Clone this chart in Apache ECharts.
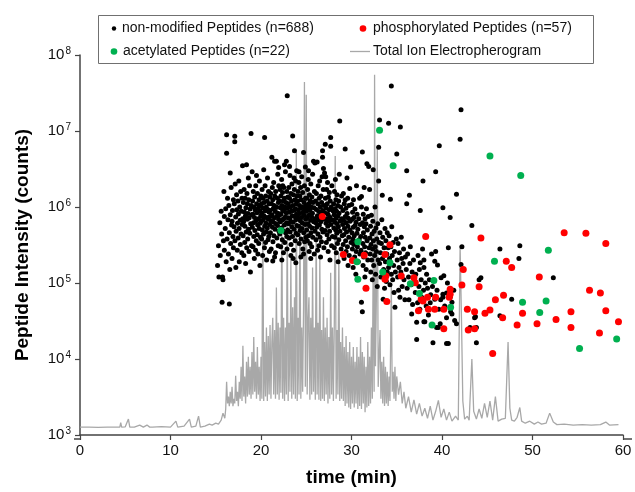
<!DOCTYPE html>
<html>
<head>
<meta charset="utf-8">
<script src="https://cdn.jsdelivr.net/npm/echarts@6/dist/echarts.min.js"></script>
<style>
html,body{margin:0;padding:0;background:#fff;}
#chart{width:635px;height:492px;}
</style>
</head>
<body>
<div id="chart"></div>
<script>
// Total Ion Electropherogram [time (min), intensity]
const tieData = [[0,1.27e3],[1,1.27e3],[2,1.26e3],[3,1.27e3],[4,1.27e3],[4.4,1.27e3],[4.5,1.45e3],[4.6,1.27e3],[5.0,1.28e3],[5.35,1.62e3],[5.5,1.27e3],[6.0,1.27e3],[6.6,1.35e3],[7.0,1.27e3],[7.4,1.35e3],[7.7,1.27e3],[8,1.27e3],[9,1.29e3],[10,1.27e3],[10.6,1.52e3],[10.8,1.27e3],[11,1.27e3],[11.5,1.31e3],[12.1,1.62e3],[12.3,1.27e3],[12.8,1.31e3],[13.1,1.77e3],[13.3,1.27e3],[13.8,1.31e3],[14.3,1.39e3],[14.6,1.35e3],[15.0,1.43e3],[15.3,1.39e3],[15.6,1.57e3],[15.8,1.94e3],
[16.0,1.66e3],[16.1,2.2e3],[16.2,5.0e3],[16.3,2.6e3],[16.4,3.2e3],[16.5,2.4e3],[16.6,3.7e3],[16.7,2.6e3],[16.8,4.3e3],[16.9,2.4e3],[17.0,3.0e3],[17.1,2.6e3],[17.2,6.0e3],[17.3,2.8e3],[17.4,3.7e3],[17.5,2.4e3],[17.6,5.0e3],[17.7,3.0e3],[17.8,7.9e3],[17.9,2.8e3],
[18.0,1.49e4],[18.1,3.2e3],[18.2,5.9e3],[18.3,2.6e3],[18.4,9.2e3],[18.5,3.2e3],[18.6,1.07e4],[18.7,3.4e3],[18.8,7.9e3],[18.9,3.0e3],[19.0,1.24e4],[19.1,3.4e3],[19.2,1.95e4],[19.3,3.7e3],[19.4,9.2e3],[19.5,3.0e3],[19.6,1.44e4],[19.7,3.4e3],[19.8,7.9e3],[19.9,2.8e3],
[20.0,1.07e4],[20.1,3.0e3],[20.2,1.1e6],[20.3,2.8e3],[20.4,1.67e4],[20.5,3.2e3],[20.6,2.6e4],[20.7,2.8e3],[20.8,2.0e4],[20.9,3.4e3],[21.0,2.8e4],[21.1,3.0e3],[21.2,1.67e4],[21.3,3.5e4],[21.4,3.4e3],[21.5,2.4e4],[21.6,3.0e3],[21.7,8.7e4],[21.8,3.4e3],[21.9,3.0e4],
[22.0,2.9e3],[22.1,2.6e4],[22.2,3.6e3],[22.3,1.0e6],[22.4,3.0e3],[22.5,3.5e4],[22.6,2.8e3],[22.7,2.6e4],[22.8,3.4e3],[22.9,8.3e5],[23.0,2.8e3],[23.1,3.0e4],[23.2,3.7e3],[23.3,2.1e5],[23.4,3.0e3],[23.5,4.8e4],[23.6,3.4e3],[23.7,6.5e4],[23.8,3.0e3],[23.9,5.3e6],
[24.0,2.8e3],[24.1,3.5e4],[24.2,3.4e3],[24.3,1.3e6],[24.4,3.0e3],[24.5,2.6e4],[24.6,3.7e3],[24.7,4.8e4],[24.8,4.4e7],[24.9,4.3e3],[25.0,3.0e7],[25.1,3.4e3],[25.2,3.0e4],[25.3,6.5e4],[25.4,2.9e3],[25.5,3.5e4],[25.6,3.4e3],[25.7,1.6e5],[25.8,3.7e3],[25.9,2.6e4],
[26.0,2.9e3],[26.1,8.3e5],[26.2,3.4e3],[26.3,3.0e4],[26.4,2.9e3],[26.5,2.1e5],[26.6,2.8e3],[26.7,2.4e4],[26.8,3.0e3],[26.9,6.5e4],[27.0,2.8e3],[27.1,2.6e4],[27.2,3.4e3],[27.3,3.5e4],[27.4,2.6e3],[27.5,1.95e4],[27.6,3.0e3],[27.7,1.36e5],[27.8,3.4e3],[27.9,2.6e4],
[28.0,2.8e3],[28.1,3.0e4],[28.2,4.7e6],[28.3,3.0e3],[28.4,2.4e4],[28.5,3.4e3],[28.6,2.5e5],[28.7,2.8e3],[28.8,1.67e4],[28.9,3.0e3],[29.0,2.6e4],[29.1,2.8e3],[29.2,1.44e4],[29.3,2.4e3],[29.4,2.0e4],[29.5,2.6e3],[29.6,1.24e4],[29.7,2.3e3],[29.8,1.67e4],[29.9,2.2e3],
[30.0,1.07e4],[30.1,2.6e3],[30.2,1.44e4],[30.3,2.3e3],[30.4,9.2e3],[30.5,2.6e3],[30.6,1.44e4],[30.7,2.2e3],[30.8,1.07e4],[30.9,2.4e3],[31.0,1.95e4],[31.1,2.2e3],[31.2,1.24e4],[31.3,2.6e3],[31.4,1.07e4],[31.5,2.0e3],[31.6,7.9e3],[31.7,2.3e3],[31.8,1.67e4],[31.9,2.4e3],
[32.0,1.07e4],[32.1,2.6e3],[32.2,2.6e4],[32.3,3.0e3],[32.4,2.9e5],[32.5,3.7e3],[32.55,5.5e7],[32.65,8.0e3],[32.75,6.5e4],[32.85,5.8e6],[32.95,4.3e3],[33.05,1.07e4],[33.15,2.4e4],[33.25,3.0e3],[33.35,9.2e3],[33.45,2.6e3],[33.55,1.07e4],[33.65,2.4e3],[33.75,7.9e3],[33.85,2.6e3],[33.95,6.8e3],
[34.05,2.4e3],[34.15,5.9e3],[34.25,2.8e3],[34.4,1.0e5],[34.5,3.7e3],[34.6,6.8e3],[34.7,3.0e3],[34.8,7.9e3],[34.9,2.8e3],[35.0,5.9e3],[35.2,3.4e3],[35.4,5.0e3],[35.6,2.6e3],[35.8,3.7e3],[36.0,2.25e3],[36.3,3.2e3],[36.6,2.0e3],[36.9,2.9e3],[37.2,1.88e3],[37.5,2.6e3],[37.8,1.77e3],[38.1,2.25e3],[38.4,1.66e3],[38.7,2.4e3],[39.0,1.57e3],[39.3,2.05e3],[39.6,2.86e3],[39.9,1.71e3],[40.2,2.2e3],[40.5,1.57e3],[40.8,2.0e3],[41.1,1.52e3],[41.5,1.77e3],[41.8,1.57e3],
[42.0,3.1e5],[42.15,3.5e4],[42.3,2.8e3],[42.5,1.62e3],[42.8,1.77e3],[43.0,1.57e3],[43.3,1.0e4],[43.5,2.05e3],[43.8,1.62e3],[44.1,2.2e3],[44.4,1.66e3],[44.7,2.6e3],[45.0,1.71e3],[45.3,2.8e3],[45.6,1.57e3],[45.9,3.2e3],[46.2,1.52e3],[46.6,1.62e3],[47.0,1.66e3],[47.3,1.67e4],[47.5,2.25e3],[47.7,1.57e3],[48.0,1.52e3],[48.3,1.71e3],[48.6,2.3e3],[48.8,1.52e3],[49.2,1.43e3],[49.7,1.52e3],[50.2,1.39e3],[50.6,1.48e3],[51.0,1.39e3],[51.5,1.43e3],[51.9,1.94e3],[52.3,1.48e3],[52.7,1.37e3],[53.5,1.39e3],[54.5,1.35e3],[55.5,1.37e3],[56.5,1.35e3],[57.5,1.37e3],[58.1,1.48e3],[58.5,1.35e3],[59.5,1.37e3]];

// non-modified peptides [time (min), intensity]
const nonModified = [
[15.2,1.7e5],[15.3,3.1e5],[15.35,1.2e5],[15.45,6.2e5],[15.5,2.3e5],[15.6,8.8e5],[15.65,4.4e5],[15.7,5.6e4],[15.75,1.2e5],[15.8,1.1e5],[15.85,3.6e5],[15.9,1.6e6],[15.95,2.7e5],[15.95,7.5e5],
[16.05,5.2e5],[16.1,9.5e5],[16.15,1.9e5],[16.2,8.9e6],[16.2,5.1e6],[16.25,3.8e5],[16.3,1.3e6],[16.35,6.8e5],[16.4,2.4e5],[16.45,1.05e6],[16.5,5.3e4],[16.5,4.6e5],[16.55,1.5e5],[16.6,2.8e6],[16.6,7.9e5],[16.65,3.3e5],[16.7,1.8e6],[16.75,5.8e5],[16.8,2.1e5],[16.85,9.0e5],[16.9,4.1e5],[16.95,1.25e6],[16.95,2.9e5],[16.8,6.5e5],
[17.02,5.5e5],[17.05,1.1e6],[17.1,8.5e6],[17.1,7.2e6],[17.12,3.6e5],[17.15,2.0e6],[17.2,7.4e5],[17.22,1.6e5],[17.25,4.8e5],[17.3,1.45e6],[17.33,9.2e5],[17.38,2.7e5],[17.4,6.1e5],[17.45,1.2e6],[17.48,3.9e5],[17.5,8.1e5],[17.55,2.2e6],[17.58,5.2e5],[17.6,1.9e5],[17.65,1.0e6],[17.7,6.7e5],[17.72,3.2e5],[17.75,1.6e6],[17.8,4.4e5],[17.83,8.8e5],[17.87,2.5e5],[17.9,1.3e6],[17.93,5.9e5],[17.96,3.5e6],[17.98,7.0e5],
[18.02,4.2e5],[18.05,1.15e6],[18.08,6.4e5],[18.1,2.3e5],[18.13,1.7e6],[18.16,8.6e5],[18.2,3.4e5],[18.22,5.6e5],[18.25,1.3e6],[18.28,7.6e5],[18.3,1.8e5],[18.33,9.8e5],[18.36,4.7e5],[18.4,3.6e6],[18.42,2.9e5],[18.45,1.5e6],[18.48,6.9e5],[18.5,1.1e6],[18.53,3.8e5],[18.56,8.2e5],[18.6,2.4e6],[18.62,5.1e5],[18.65,1.25e6],[18.68,2.6e5],[18.7,7.2e5],[18.73,1.9e6],[18.76,4.5e5],[18.8,9.4e5],[18.83,1.4e5],[18.86,6.0e5],[18.9,9.3e6],[18.92,1.05e6],[18.95,3.1e5],[18.98,7.9e5],
[19.02,2.9e6],[19.04,5.4e5],[19.07,1.2e6],[19.1,8.0e5],[19.12,3.0e5],[19.15,1.6e6],[19.18,6.2e5],[19.2,4.1e5],[19.23,1.0e6],[19.26,2.1e5],[19.28,7.3e5],[19.3,1.35e6],[19.33,4.9e5],[19.36,9.1e5],[19.4,2.7e5],[19.42,1.9e6],[19.45,6.6e5],[19.48,3.6e5],[19.5,2.6e6],[19.52,1.1e6],[19.55,8.4e5],[19.58,4.3e5],[19.6,1.5e6],[19.63,5.8e5],[19.66,2.4e5],[19.7,9.6e5],[19.72,7.0e5],[19.75,3.3e5],[19.78,1.25e6],[19.8,5.2e5],[19.83,2.2e6],[19.86,8.8e5],[19.88,1.7e5],[19.9,6.1e5],[19.93,1.05e6],[19.95,4.0e5],[19.97,7.6e5],[19.99,1.4e6],
[20.02,6.5e5],[20.05,1.1e6],[20.07,3.8e5],[20.1,8.3e5],[20.12,1.7e6],[20.15,5.0e5],[20.18,2.3e5],[20.2,9.7e5],[20.22,1.3e6],[20.25,6.8e5],[20.28,4.4e5],[20.3,3.1e6],[20.32,7.7e5],[20.35,1.15e6],[20.38,2.9e5],[20.4,8.2e6],[20.42,5.6e5],[20.45,1.9e6],[20.48,8.9e5],[20.5,3.4e5],[20.52,1.4e6],[20.55,6.1e5],[20.58,1.0e6],[20.6,4.7e5],[20.62,2.0e5],[20.65,7.3e5],[20.68,1.2e6],[20.7,5.3e5],[20.72,2.4e6],[20.75,9.3e5],[20.78,3.7e5],[20.8,6.9e5],[20.83,1.6e6],[20.86,4.1e5],[20.88,8.6e5],[20.9,1.1e6],[20.93,2.6e5],[20.95,5.9e5],[20.97,1.35e6],[20.99,7.5e5],
[21.02,9.0e5],[21.04,4.6e5],[21.07,1.5e6],[21.1,6.6e5],[21.12,2.8e5],[21.15,1.1e6],[21.2,4.5e6],[21.22,7.9e5],[21.25,1.8e6],[21.27,5.4e5],[21.3,1.25e6],[21.32,3.5e5],[21.35,9.5e5],[21.38,6.3e5],[21.4,2.1e6],[21.42,4.2e5],[21.45,1.05e6],[21.48,7.2e5],[21.5,4.0e6],[21.52,1.4e6],[21.55,5.1e5],[21.58,8.7e5],[21.6,2.5e5],[21.62,1.6e6],[21.65,6.0e5],[21.7,4.0e6],[21.72,1.0e6],[21.75,3.9e5],[21.78,7.6e5],[21.8,1.3e6],[21.82,5.7e5],[21.85,2.7e6],[21.87,8.3e5],[21.9,3.1e5],[21.92,1.15e6],[21.94,6.9e5],[21.96,1.9e6],[21.98,4.8e5],[21.5,2.2e5],[21.3,1.95e5],[21.7,9.9e5],[21.95,3.3e6],
[22.02,7.8e5],[22.04,1.2e6],[22.07,4.4e5],[22.1,1.7e6],[22.12,6.4e5],[22.15,9.8e5],[22.18,3.0e5],[22.2,1.4e6],[22.22,8.1e5],[22.25,5.3e5],[22.28,2.3e6],[22.3,1.05e6],[22.32,6.7e5],[22.35,3.7e5],[22.38,1.55e6],[22.4,8.9e5],[22.42,4.9e5],[22.45,1.2e6],[22.48,2.5e5],[22.5,7.0e5],[22.52,1.8e6],[22.55,9.2e5],[22.58,5.8e5],[22.6,1.3e6],[22.62,3.4e5],[22.65,1.0e6],[22.68,7.4e5],[22.7,2.9e6],[22.72,4.6e5],[22.75,1.15e6],[22.78,8.4e5],[22.8,4.0e6],[22.82,6.2e5],[22.85,1.6e6],[22.87,2.8e5],[22.9,2.9e7],[22.92,9.6e5],[22.94,5.0e5],[22.96,1.35e6],[22.98,7.2e5],[22.3,2.0e5],[22.6,3.6e6],[22.4,1.9e6],[22.85,4.1e5],
[23.02,1.1e6],[23.04,6.0e5],[23.07,1.8e6],[23.1,8.5e5],[23.12,3.9e5],[23.15,1.3e6],[23.18,7.1e5],[23.2,2.6e6],[23.22,4.7e5],[23.25,1.0e6],[23.28,6.5e5],[23.3,1.5e6],[23.32,3.2e5],[23.35,8.8e5],[23.38,1.2e6],[23.4,5.5e5],[23.42,2.0e6],[23.45,7.7e5],[23.48,4.1e5],[23.5,8.6e6],[23.52,1.05e6],[23.55,6.3e5],[23.58,1.45e6],[23.6,2.7e5],[23.62,9.0e5],[23.65,5.1e5],[23.68,1.7e6],[23.7,5.5e6],[23.72,7.5e5],[23.75,1.25e6],[23.78,3.6e5],[23.8,9.5e5],[23.82,2.2e6],[23.85,6.8e5],[23.87,4.5e5],[23.9,1.1e6],[23.92,8.0e5],[23.94,3.0e6],[23.96,5.7e5],[23.98,1.4e6],[23.3,2.3e5],[23.55,2.1e5],[23.15,3.4e6],[23.85,1.85e5],[23.65,2.4e6],
[24.02,7.6e5],[24.05,1.2e6],[24.07,4.3e5],[24.1,1.6e6],[24.12,9.1e5],[24.15,5.6e5],[24.18,2.1e6],[24.2,7.0e5],[24.22,3.3e5],[24.25,1.05e6],[24.28,8.2e5],[24.3,1.4e6],[24.32,4.9e5],[24.35,6.6e5],[24.38,1.8e6],[24.4,9.7e5],[24.42,3.8e5],[24.45,1.25e6],[24.48,7.3e5],[24.5,2.5e6],[24.52,5.2e5],[24.55,1.0e6],[24.58,6.1e5],[24.6,1.55e6],[24.62,2.8e5],[24.65,8.6e5],[24.7,5.2e6],[24.72,4.6e5],[24.75,1.15e6],[24.78,7.8e5],[24.8,1.9e6],[24.82,3.5e5],[24.85,9.4e5],[24.88,5.9e5],[24.9,3.35e6],[24.92,1.3e6],[24.94,6.9e5],[24.96,4.0e5],[24.98,1.05e6],[24.4,2.2e5],[24.7,2.4e5],[24.2,2.9e6],
[25.02,8.8e5],[25.05,5.0e5],[25.07,1.3e6],[25.1,7.2e5],[25.12,3.6e5],[25.15,1.7e6],[25.18,9.6e5],[25.2,6.0e5],[25.22,2.3e6],[25.25,4.2e5],[25.28,1.1e6],[25.3,7.8e5],[25.32,2.6e5],[25.35,1.45e6],[25.38,5.6e5],[25.4,9.0e5],[25.42,3.3e5],[25.45,1.2e6],[25.48,6.7e5],[25.5,2.0e6],[25.52,4.6e5],[25.55,1.0e6],[25.58,7.5e5],[25.6,3.0e5],[25.62,1.35e6],[25.65,5.3e5],[25.68,8.3e5],[25.7,2.7e6],[25.72,4.0e5],[25.75,1.15e6],[25.8,4.0e6],[25.82,6.4e5],[25.85,9.8e5],[25.88,2.4e5],[25.9,1.6e6],[25.92,7.0e5],[25.95,3.8e6],[25.97,4.8e5],[25.5,2.1e5],[25.25,3.0e6],
[26.02,1.2e6],[26.05,6.2e5],[26.08,3.7e5],[26.1,9.3e5],[26.12,1.5e6],[26.15,5.4e5],[26.2,3.9e6],[26.22,7.6e5],[26.25,2.7e5],[26.28,1.1e6],[26.3,4.4e5],[26.32,1.9e6],[26.35,6.8e5],[26.38,8.7e5],[26.4,3.1e5],[26.42,1.3e6],[26.45,5.8e5],[26.48,2.2e6],[26.5,7.3e5],[26.52,4.0e5],[26.55,1.0e6],[26.58,2.2e5],[26.6,6.4e5],[26.62,1.4e6],[26.65,8.1e5],[26.68,3.5e5],[26.7,1.15e6],[26.72,5.1e5],[26.75,2.5e6],[26.8,5.5e6],[26.8,4.5e6],[26.82,9.0e5],[26.85,4.7e5],[26.88,1.7e6],[26.9,3.2e6],[26.92,6.9e5],[26.95,2.9e5],[26.97,1.05e6],
[27.02,2.8e6],[27.05,8.4e5],[27.08,4.9e5],[27.1,6.7e6],[27.12,1.3e6],[27.15,2.5e6],[27.18,6.1e5],[27.2,9.7e5],[27.22,3.4e5],[27.25,1.7e6],[27.28,7.0e5],[27.3,4.3e5],[27.32,1.1e6],[27.35,2.1e6],[27.38,5.6e5],[27.4,8.0e5],[27.42,2.6e5],[27.45,1.35e6],[27.48,6.5e5],[27.5,3.8e5],[27.52,9.2e5],[27.55,1.55e6],[27.58,4.8e5],[27.6,7.4e5],[27.62,2.0e5],[27.65,1.2e6],[27.7,6.3e6],[27.7,8.2e6],[27.72,5.9e5],[27.75,1.0e6],[27.8,3.1e5],[27.83,1.9e6],[27.86,6.8e5],[27.9,4.1e5],[27.95,8.9e5],
[28.02,1.1e6],[28.05,5.3e5],[28.08,7.9e5],[28.1,2.9e5],[28.12,1.6e6],[28.15,6.3e5],[28.18,4.0e5],[28.2,9.5e5],[28.22,2.3e6],[28.25,5.0e5],[28.28,1.25e6],[28.3,7.1e5],[28.32,2.5e5],[28.35,8.8e5],[28.38,4.5e5],[28.4,1.45e6],[28.42,6.0e5],[28.45,3.3e5],[28.48,1.05e6],[28.5,7.6e5],[28.52,1.9e5],[28.55,5.5e5],[28.58,1.2e6],[28.6,3.7e5],[28.62,8.3e5],[28.65,2.7e6],[28.7,1.35e7],[28.72,4.8e5],[28.75,6.6e5],[28.8,1.0e6],[28.85,2.8e5],[28.9,1.4e6],[28.93,7.0e5],[28.97,4.2e5],
[29.02,5.9e5],[29.05,9.0e5],[29.08,3.2e5],[29.1,1.5e6],[29.12,6.7e5],[29.15,4.3e5],[29.18,2.1e5],[29.2,1.1e6],[29.22,5.2e5],[29.3,5.8e6],[29.3,1.24e6],[29.32,7.5e5],[29.35,3.6e5],[29.38,9.6e5],[29.4,2.6e5],[29.42,6.2e5],[29.45,4.7e5],[29.5,2.4e6],[29.52,8.2e5],[29.55,3.0e5],[29.58,1.3e6],[29.6,5.6e5],[29.62,1.7e5],[29.65,7.1e5],[29.7,4.0e5],[29.72,1.05e6],[29.75,2.3e5],[29.8,1.75e6],[29.82,5.0e5],[29.85,6.5e5],[29.9,3.35e6],[29.95,3.4e5],
[30.02,1.08e6],[30.05,4.6e5],[30.08,6.9e5],[30.1,2.8e5],[30.12,8.5e5],[30.15,3.8e5],[30.18,1.6e5],[30.2,5.4e5],[30.22,1.25e6],[30.25,3.2e5],[30.28,7.3e5],[30.3,4.2e5],[30.35,2.2e5],[30.38,9.4e5],[30.4,5.7e5],[30.45,3.5e5],[30.48,1.3e5],[30.5,6.3e5],[30.52,2.6e5],[30.55,1.9e6],[30.6,4.5e5],[30.62,8.0e5],[30.65,3.0e5],[30.7,5.1e5],[30.75,1.9e5],[30.8,7.0e5],[30.85,3.7e5],[30.9,1.3e6],[30.93,2.4e5],[30.97,5.9e5],
[31.02,4.1e5],[31.05,2.7e5],[31.1,1.37e6],[31.1,1.0e6],[31.1,5.6e4],[31.2,5.3e6],[31.2,4.2e4],[31.22,6.2e5],[31.25,3.3e5],[31.28,1.7e5],[31.3,8.0e5],[31.32,4.6e5],[31.35,2.2e5],[31.4,1.8e6],[31.42,5.5e5],[31.45,3.0e5],[31.48,1.2e5],[31.5,7.0e5],[31.52,4.0e5],[31.55,2.5e5],[31.6,6.0e5],[31.62,1.5e5],[31.65,9.5e5],[31.7,3.7e6],[31.72,3.6e5],[31.75,5.0e5],[31.8,2.0e5],[31.85,7.5e5],[31.9,3.4e6],[31.95,2.9e5],
[32.0,1.7e6],[32.03,3.9e5],[32.06,2.4e5],[32.1,5.6e5],[32.13,1.4e5],[32.16,3.2e5],[32.2,7.8e5],[32.23,2.0e5],[32.26,4.4e5],[32.3,1.1e5],[32.33,2.8e5],[32.36,6.5e5],[32.4,3.1e6],[32.42,3.6e5],[32.45,1.7e5],[32.5,4.8e5],[32.55,2.3e5],[32.6,1.0e6],[32.62,3.0e5],[32.66,1.3e5],[32.7,5.3e5],[32.75,2.6e5],[32.8,3.8e5],[32.85,9.0e4],[32.9,6.0e5],[32.95,2.0e5],
[33.0,6.1e6],[33.0,2.2e6],[33.1,1.4e7],[33.05,3.4e5],[33.1,1.8e5],[33.15,4.6e5],[33.2,2.5e5],[33.25,1.2e5],[33.3,3.3e5],[33.35,6.8e5],[33.4,1.43e6],[33.42,2.1e5],[33.45,4.0e5],[33.5,6.1e4],[33.55,1.5e5],[33.6,2.9e5],[33.65,8.5e4],[33.7,5.2e5],[33.75,1.9e5],[33.8,3.6e5],[33.85,1.05e5],[33.9,2.4e5],[33.95,1.4e5],[33.95,4.6e5],
[34.1,1.26e7],[34.4,3.9e7],[34.3,1.26e6],[34.8,4.8e4],[34.05,2.9e5],[34.1,1.6e5],[34.15,4.2e5],[34.2,2.1e5],[34.25,9.5e4],[34.35,3.0e5],[34.4,1.3e5],[34.45,5.5e5],[34.5,2.3e5],[34.55,1.1e5],[34.6,3.4e5],[34.65,1.7e5],[34.7,7.5e4],[34.75,2.6e5],[34.85,1.4e5],[34.95,3.8e5],
[35.0,5.0e6],[35.4,1.13e7],[35.05,2.0e5],[35.1,1.2e5],[35.15,3.3e5],[35.2,8.0e4],[35.25,1.6e5],[35.3,2.5e5],[35.35,6.5e4],[35.45,1.4e5],[35.5,4.0e5],[35.55,2.1e5],[35.6,9.0e4],[35.7,1.8e5],[35.75,2.8e5],[35.8,1.1e5],[35.9,6.0e4],[35.95,2.2e5],
[36.1,3.0e6],[36.4,1.43e6],[36.1,1.1e6],[36.65,3.9e4],[36.05,1.5e5],[36.15,8.5e4],[36.2,2.4e5],[36.3,1.2e5],[36.35,6.0e4],[36.45,1.8e5],[36.5,3.0e5],[36.6,9.5e4],[36.7,1.4e5],[36.75,5.2e4],[36.85,2.0e5],[36.95,1.0e5],
[37.9,2.2e6],[37.6,9.0e5],[37.6,1.85e5],[37.2,3.05e4],[37.2,1.8e4],[37.05,7.5e4],[37.1,1.3e5],[37.3,5.5e4],[37.35,2.3e5],[37.45,9.0e4],[37.5,1.5e5],[37.55,4.5e4],[37.7,1.1e5],[37.75,6.5e4],[37.85,2.8e5],[37.95,8.0e4],
[38.0,2.0e5],[38.0,1.6e5],[38.0,3.1e4],[38.1,3.1e4],[38.75,7.0e4],[38.15,1.0e5],[38.25,5.0e4],[38.3,1.3e5],[38.4,8.5e4],[38.5,3.8e4],[38.6,1.1e5],[38.7,5.5e4],[38.85,2.4e5],[38.95,9.0e4],
[39.0,1.63e4],[39.2,1.94e5],[39.2,6.1e4],[39.3,2.9e6],[39.3,2.6e5],[39.4,2.6e4],[39.5,1.72e5],[39.6,2.6e4],[39.7,6.4e6],[39.8,2.9e4],[39.9,1.17e5],[39.45,8.0e4],[39.65,4.5e4],[39.85,6.0e4],
[40.1,9.8e5],[40.1,7.1e4],[40.1,6.5e4],[40.2,1.25e5],[40.5,7.4e4],[40.5,3.5e4],[40.5,1.6e4],[40.7,1.6e4],[40.7,2.9e5],[40.9,7.3e5],[40.9,6.5e4],[40.95,4.2e4],[40.3,5.0e4],[40.6,1.0e5],
[41.1,3.9e4],[41.1,5.6e4],[41.4,3.2e4],[41.6,2.9e4],[41.6,1.47e6],[41.3,8.0e4],
[42.0,7.8e6],[42.1,1.9e7],[42.2,3.0e5],[42.1,1.75e5],[43.3,5.7e5],[43.1,2.6e4],[43.6,3.5e4],[43.7,3.6e4],[43.8,2.6e4],[43.8,1.63e4],[44.3,1.17e5],[44.1,1.1e5],[46.4,2.8e5],[46.4,3.7e4],[47.7,6.1e4],[48.6,3.1e5],[48.5,2.1e5],[52.3,1.17e5]
];

// phosphorylated peptides [time (min), intensity]
const phosphorylated = [[26.77,7.5e5],[29.1,2.37e5],[30.1,1.98e5],[31.4,2.32e5],[34.25,3.19e5],[33.7,2.37e5],[38.2,4.1e5],[33.8,1.24e5],[33.7,1.12e5],[35.5,1.24e5],[36.9,1.17e5],[37.05,1.01e5],[31.6,8.5e4],[33.9,5.7e4],[37.4,4.3e4],[37.9,5.8e4],[38.4,6.5e4],[39.2,4.5e4],[40.2,2.5e4],[40.8,6.5e4],[40.9,8.3e4],[40.9,7.1e4],[40.2,4.5e4],[39.3,6.5e4],[37.7,6.1e4],[38.5,4.5e4],[42.8,4.5e4],[43.6,4.2e4],[42.9,2.4e4],[43.6,2.5e4],[44.75,4.0e4],[45.3,4.4e4],[45.9,6.0e4],[46.7,3.5e4],[45.6,1.18e4],[48.9,4.0e4],[48.3,2.8e4],[50.5,2.9e4],[52.6,3.3e4],[54.25,4.2e4],[54.25,2.6e4],[57.4,2.2e4],[58.1,4.3e4],[59.5,3.1e4],[44.3,3.9e5],[53.5,4.6e5],[55.9,4.5e5],[58.1,3.3e5],[47.1,1.94e5],[47.7,1.6e5],[42.35,1.5e5],[50.75,1.2e5],[42.2,9.4e4],[44.1,8.9e4],[46.8,6.9e4],[56.3,8.0e4],[57.5,7.4e4]];

// acetylated peptides [time (min), intensity]
const acetylated = [[22.2,4.9e5],[33.1,1.02e7],[34.6,3.5e6],[30.7,3.5e5],[30.6,1.9e5],[30.7,1.12e5],[34.25,1.85e5],[33.45,1.4e5],[36.5,9.8e4],[37.5,7.3e4],[39.1,1.08e5],[38.9,2.8e4],[40.95,4.8e4],[45.3,4.7e6],[48.7,2.6e6],[51.75,2.7e5],[45.8,1.94e5],[48.9,5.6e4],[51.5,5.8e4],[50.8,4.1e4],[55.2,1.37e4],[59.3,1.83e4]];

const legendLabels = ['non-modified Peptides (n=688)','phosphorylated Peptides (n=57)','acetylated Peptides (n=22)','Total Ion Electropherogram'];

const FONT = '"Liberation Sans", Arial, Helvetica, sans-serif';
const AXIS_COLOR = '#444';
const chart = echarts.init(document.getElementById('chart'), null, {renderer:'canvas'});
const option = {
  animation:false,
  backgroundColor:'#fff',
  grid:{left:80, right:12, top:55, bottom:53, containLabel:false},
  xAxis:{
    type:'value', min:0, max:60, interval:10,
    name:'time (min)', nameLocation:'middle', nameGap:33,
    nameTextStyle:{fontFamily:FONT, fontSize:19, fontWeight:'bold', color:'#000'},
    axisLine:{lineStyle:{color:AXIS_COLOR, width:1.5}},
    axisTick:{show:true, inside:false, length:5, lineStyle:{color:AXIS_COLOR, width:1.2}},
    axisLabel:{fontFamily:FONT, fontSize:15, color:'#111', margin:8},
    splitLine:{show:false}
  },
  yAxis:{
    type:'log', logBase:10, min:1e3, max:1e8,
    name:'Peptide Intensity (counts)', nameLocation:'middle', nameGap:48,
    nameTextStyle:{fontFamily:FONT, fontSize:19, fontWeight:'bold', color:'#000'},
    axisLine:{show:true, lineStyle:{color:AXIS_COLOR, width:1.5}},
    axisTick:{show:true, inside:false, length:5, lineStyle:{color:AXIS_COLOR, width:1.2}},
    minorTick:{show:false},
    axisLabel:{
      margin:9, color:'#111',
      formatter:function(v){ const e = Math.round(Math.log10(v)); return '{b|10}{s|' + e + '}'; },
      rich:{
        b:{fontFamily:FONT, fontSize:15, color:'#111', lineHeight:18},
        s:{fontFamily:FONT, fontSize:10, color:'#111', verticalAlign:'top', lineHeight:10, padding:[0,0,6,1]}
      }
    },
    splitLine:{show:false}
  },
  series:[
    {name:legendLabels[3], type:'line', data:tieData, showSymbol:false, symbol:'none', z:1,
     lineStyle:{color:'#a8a8a8', width:1.3}},
    {name:legendLabels[0], type:'scatter', data:nonModified, symbolSize:5, z:2,
     itemStyle:{color:'#000', opacity:1}},
    {name:legendLabels[1], type:'scatter', data:phosphorylated, symbolSize:7, z:3,
     itemStyle:{color:'#ff0000', opacity:1}},
    {name:legendLabels[2], type:'scatter', data:acetylated, symbolSize:7, z:4,
     itemStyle:{color:'#00b050', opacity:1}}
  ],
  graphic:[
    {type:'line', z:5, shape:{x1:74, y1:439, x2:80, y2:439}, style:{stroke:AXIS_COLOR, lineWidth:1.5}},
    {type:'line', z:5, shape:{x1:623, y1:439, x2:632, y2:439}, style:{stroke:AXIS_COLOR, lineWidth:1.5}},
    {type:'rect', z:10, shape:{x:98.5, y:15.5, width:495, height:48}, style:{fill:'#fff', stroke:'#707070', lineWidth:1}},
    {type:'circle', z:11, shape:{cx:114, cy:28.5, r:2.2}, style:{fill:'#000'}},
    {type:'text', z:11, x:122, y:28.5, style:{text:legendLabels[0], font:'14px ' + FONT, fill:'#111', verticalAlign:'middle'}},
    {type:'circle', z:11, shape:{cx:363, cy:28.5, r:3.3}, style:{fill:'#ff0000'}},
    {type:'text', z:11, x:373, y:28.5, style:{text:legendLabels[1], font:'14px ' + FONT, fill:'#111', verticalAlign:'middle'}},
    {type:'circle', z:11, shape:{cx:114, cy:51.5, r:3.3}, style:{fill:'#00b050'}},
    {type:'text', z:11, x:123, y:51.5, style:{text:legendLabels[2], font:'14px ' + FONT, fill:'#111', verticalAlign:'middle'}},
    {type:'line', z:11, shape:{x1:350, y1:51.5, x2:370, y2:51.5}, style:{stroke:'#a8a8a8', lineWidth:1.3}},
    {type:'text', z:11, x:373, y:51.5, style:{text:legendLabels[3], font:'14px ' + FONT, fill:'#111', verticalAlign:'middle'}}
  ]
};
chart.setOption(option);
</script>
</body>
</html>
